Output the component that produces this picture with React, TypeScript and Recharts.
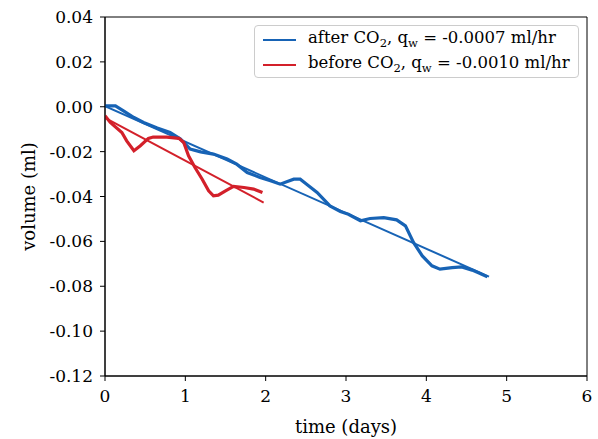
import { ComposedChart, Line, XAxis, YAxis, ReferenceArea } from "recharts";

// after CO2 injection (blue)
const afterTime = [0, 0.13, 0.23, 0.36, 0.48, 0.65, 0.81, 0.94, 1.06, 1.19, 1.35, 1.52, 1.64, 1.77, 1.93, 2.06, 2.18, 2.35, 2.43, 2.51, 2.64, 2.8, 2.93, 3.03, 3.18, 3.3, 3.47, 3.63, 3.74, 3.84, 3.95, 4.07, 4.17, 4.32, 4.44, 4.57, 4.67, 4.76];
const afterVolume = [0.0004, 0.0004, -0.0018, -0.0048, -0.007, -0.0095, -0.0115, -0.0144, -0.0189, -0.0201, -0.0211, -0.0233, -0.0256, -0.0293, -0.0315, -0.033, -0.0345, -0.0323, -0.0323, -0.0345, -0.0382, -0.0442, -0.0467, -0.0479, -0.0508, -0.0498, -0.0494, -0.0504, -0.0531, -0.0605, -0.0665, -0.0709, -0.0724, -0.0717, -0.0714, -0.0728, -0.0743, -0.0758];

// before CO2 injection (red)
const beforeTime = [0, 0.066, 0.21, 0.27, 0.36, 0.44, 0.54, 0.6, 0.77, 0.92, 0.98, 1.04, 1.12, 1.21, 1.29, 1.35, 1.41, 1.5, 1.6, 1.73, 1.85, 1.96];
const beforeVolume = [-0.004, -0.007, -0.0115, -0.0152, -0.0196, -0.0174, -0.0141, -0.0135, -0.0135, -0.0141, -0.0159, -0.0219, -0.0271, -0.0323, -0.0375, -0.0397, -0.0394, -0.0375, -0.0355, -0.036, -0.0367, -0.0382];

// linear fits
const afterFitTime = [0, 4.78];
const afterFitVolume = [0.0003, -0.0757];
const beforeFitTime = [0, 1.975];
const beforeFitVolume = [-0.005, -0.0427];

const xTicks = [0, 1, 2, 3, 4, 5, 6];
const yTicks = [0.04, 0.02, 0, -0.02, -0.04, -0.06, -0.08, -0.1, -0.12];

const BLUE = "#1763b5";
const RED = "#d3202a";
const FONT = "'DejaVu Serif', serif";

const toPoints = (t: number[], v: number[]) => t.map((x, i) => ({ t: x, v: v[i] }));

const afterData = toPoints(afterTime, afterVolume);
const beforeData = toPoints(beforeTime, beforeVolume);
const afterFit = toPoints(afterFitTime, afterFitVolume);
const beforeFit = toPoints(beforeFitTime, beforeFitVolume);

function LegendBox() {
  const rows = [
    { color: BLUE, pre: "after CO", rate: "-0.0007" },
    { color: RED, pre: "before CO", rate: "-0.0010" },
  ];
  return (
    <div
      style={{
        position: "absolute",
        left: 254,
        top: 25,
        boxSizing: "border-box",
        width: 325,
        height: 53,
        border: "1px solid #ccc",
        borderRadius: 4,
        background: "rgba(255,255,255,0.8)",
        fontFamily: FONT,
        fontSize: 16.5,
        color: "#000",
        padding: "1px 0 0 8px",
      }}
    >
      {rows.map((r) => (
        <div key={r.pre} style={{ display: "flex", alignItems: "center", height: 25, whiteSpace: "nowrap" }}>
          <svg width={33} height={4} style={{ marginRight: 12 }}>
            <line x1={0} y1={2} x2={33} y2={2} stroke={r.color} strokeWidth={2} />
          </svg>
          <span>
            {r.pre}
            <sub style={{ fontSize: "0.7em" }}>2</sub>, q<sub style={{ fontSize: "0.7em" }}>w</sub> = {r.rate} ml/hr
          </span>
        </div>
      ))}
    </div>
  );
}

function YLabel(props: any) {
  const vb = props.viewBox || { x: 0, y: 17, width: 105, height: 359 };
  const cx = vb.x + 28;
  const cy = vb.y + vb.height / 2;
  return (
    <text
      x={cx}
      y={cy}
      transform={`rotate(-90, ${cx}, ${cy})`}
      textAnchor="middle"
      dominantBaseline="central"
      fontFamily={FONT}
      fontSize={18}
      fill="#000"
    >
      volume (ml)
    </text>
  );
}

export default function App() {
  return (
    <div style={{ position: "absolute", left: 0, top: 0, width: 598, height: 439, background: "#fff" }}>
      <ComposedChart width={598} height={439} margin={{ top: 17, right: 11, bottom: 0, left: 0 }}>
        <XAxis
          type="number"
          dataKey="t"
          domain={[0, 6]}
          ticks={xTicks}
          allowDataOverflow
          height={63}
          tickSize={5}
          tickMargin={9}
          stroke="#000"
          tick={{ fill: "#000", fontFamily: FONT, fontSize: 17 }}
          label={{ value: "time (days)", position: "insideBottom", offset: 6, fill: "#000", fontFamily: FONT, fontSize: 18 }}
        />
        <YAxis
          type="number"
          dataKey="v"
          domain={[-0.12, 0.04]}
          ticks={yTicks}
          allowDataOverflow
          width={105}
          tickSize={5}
          tickMargin={7}
          stroke="#000"
          tickFormatter={(v: number) => v.toFixed(2)}
          tick={{ fill: "#000", fontFamily: FONT, fontSize: 17 }}
          label={<YLabel />}
        />
        <ReferenceArea x1={0} x2={6} y1={-0.12} y2={0.04} fill="none" fillOpacity={0} stroke="#000" strokeWidth={1} />
        <Line data={afterData} dataKey="v" type="linear" stroke={BLUE} strokeWidth={3.2} dot={false} isAnimationActive={false} />
        <Line data={afterFit} dataKey="v" type="linear" stroke={BLUE} strokeWidth={2} dot={false} isAnimationActive={false} />
        <Line data={beforeData} dataKey="v" type="linear" stroke={RED} strokeWidth={3.2} dot={false} isAnimationActive={false} />
        <Line data={beforeFit} dataKey="v" type="linear" stroke={RED} strokeWidth={2} dot={false} isAnimationActive={false} />
      </ComposedChart>
      <LegendBox />
    </div>
  );
}
